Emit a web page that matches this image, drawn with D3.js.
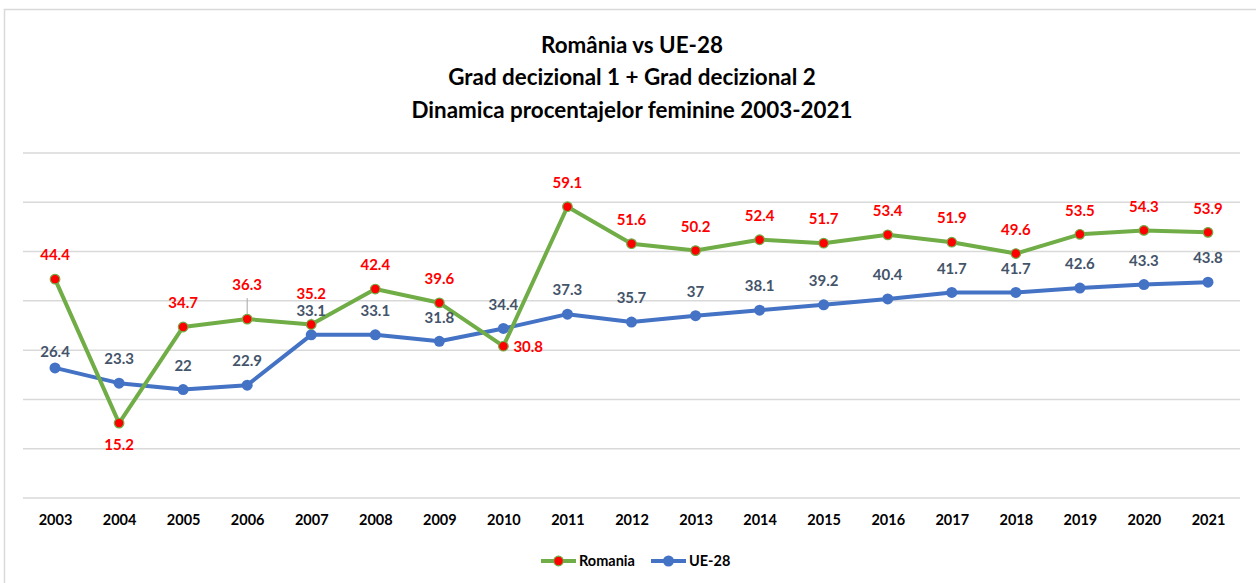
<!DOCTYPE html>
<html>
<head>
<meta charset="utf-8">
<script src="https://cdn.jsdelivr.net/npm/d3@7"></script>
<style>
  html, body { margin: 0; padding: 0; background: #fff; }
  svg { display: block; }
  text { font-family: Lato, "Open Sans", sans-serif; font-weight: bold; }
</style>
</head>
<body>
<svg id="chart" width="1256" height="583"></svg>
<script>
const titleLines = ["România vs UE-28", "Grad decizional 1 + Grad decizional 2", "Dinamica procentajelor feminine 2003-2021"];
const years = ["2003","2004","2005","2006","2007","2008","2009","2010","2011","2012","2013","2014","2015","2016","2017","2018","2019","2020","2021"];
const romania = [44.4, 15.2, 34.7, 36.3, 35.2, 42.4, 39.6, 30.8, 59.1, 51.6, 50.2, 52.4, 51.7, 53.4, 51.9, 49.6, 53.5, 54.3, 53.9];
const ue28 = [26.4, 23.3, 22, 22.9, 33.1, 33.1, 31.8, 34.4, 37.3, 35.7, 37, 38.1, 39.2, 40.4, 41.7, 41.7, 42.6, 43.3, 43.8];
const yTicks = [0, 10, 20, 30, 40, 50, 60, 70];
const seriesNames = ["Romania", "UE-28"];

(function () {
const svg = d3.select("#chart");
const W = 1256, H = 583;
const pLeft = 23, pRight = 1240, pTop = 153, pBottom = 498;

// outer chart border
svg.append("rect").attr("x", 4.5).attr("y", 9.5).attr("width", W + 10).attr("height", H + 10)
  .attr("fill", "#fff").attr("stroke", "#d9d9d9").attr("stroke-width", 1.5);

const x = d3.scalePoint().domain(years).range([pLeft, pRight]).padding(0.5);
const y = d3.scaleLinear().domain([0, 70]).range([pBottom, pTop]);

// gridlines
svg.append("g").selectAll("line").data(yTicks).join("line")
  .attr("x1", pLeft).attr("x2", pRight)
  .attr("y1", d => y(d)).attr("y2", d => y(d))
  .attr("stroke", "#d9d9d9").attr("stroke-width", 1.5);

// x axis labels
const xAxis = d3.axisBottom(x).tickSize(0).tickPadding(0);
const gx = svg.append("g").attr("transform", `translate(0,${pBottom + 17})`).call(xAxis);
gx.select(".domain").remove();
gx.selectAll("text").attr("font-size", 14.5).attr("fill", "#000")
  .attr("font-family", "Lato, sans-serif").attr("font-weight", "bold");

// title
svg.append("g").selectAll("text").data(titleLines).join("text")
  .attr("x", 632).attr("y", (d, i) => 52.5 + i * 32.5)
  .attr("text-anchor", "middle").attr("font-size", 22.4).attr("fill", "#000")
  .text(d => d);

const line = d3.line().x((d, i) => x(years[i])).y(d => y(d));

svg.append("path").datum(ue28).attr("d", line)
  .attr("fill", "none").attr("stroke", "#4472c4").attr("stroke-width", 4).attr("stroke-linejoin", "round");
svg.append("path").datum(romania).attr("d", line)
  .attr("fill", "none").attr("stroke", "#70ad47").attr("stroke-width", 4).attr("stroke-linejoin", "round");

svg.append("g").selectAll("circle").data(ue28).join("circle")
  .attr("cx", (d, i) => x(years[i])).attr("cy", d => y(d)).attr("r", 5.5)
  .attr("fill", "#4472c4");

// leader lines for Romania 2006, 2007
const leaderIdx = [3, 4];
svg.append("g").selectAll("line").data(leaderIdx).join("line")
  .attr("x1", i => x(years[i])).attr("x2", i => x(years[i]))
  .attr("y1", i => y(romania[i]) - (i === 3 ? 21 : 6)).attr("y2", i => y(romania[i]) - 3)
  .attr("stroke", "#a6a6a6").attr("stroke-width", 1);

svg.append("g").selectAll("circle").data(romania).join("circle")
  .attr("cx", (d, i) => x(years[i])).attr("cy", d => y(d)).attr("r", 4.8)
  .attr("fill", "#ff0000").attr("stroke", "#70ad47").attr("stroke-width", 1.2);

// UE labels
svg.append("g").selectAll("text").data(ue28).join("text")
  .attr("x", (d, i) => x(years[i]))
  .attr("y", (d, i) => y(d) - (i === 0 ? 16 : 24))
  .attr("dy", "0.35em")
  .attr("text-anchor", "middle").attr("font-size", 15).attr("fill", "#44546a")
  .text(d => d);

// Romania labels
function roOffset(i) {
  if (i === 1) return { dx: 0, dy: 22, anchor: "middle" };
  if (i === 7) return { dx: 10, dy: 1, anchor: "start" };
  if (i === 3) return { dx: 0, dy: -34, anchor: "middle" };
  if (i === 4) return { dx: 0, dy: -31, anchor: "middle" };
  return { dx: 0, dy: -24, anchor: "middle" };
}
svg.append("g").selectAll("text").data(romania).join("text")
  .attr("x", (d, i) => x(years[i]) + roOffset(i).dx)
  .attr("y", (d, i) => y(d) + roOffset(i).dy)
  .attr("dy", "0.35em")
  .attr("text-anchor", (d, i) => roOffset(i).anchor)
  .attr("font-size", 15).attr("fill", "#ff0000")
  .text(d => d);

// legend
const legend = svg.append("g");
const legendItems = [
  { name: seriesNames[0], x0: 541, stroke: "#70ad47", fill: "#ff0000", r: 4.8 },
  { name: seriesNames[1], x0: 651, stroke: "#4472c4", fill: "#4472c4", r: 5.5 }
];
const ly = 561;
legendItems.forEach(it => {
  legend.append("line").attr("x1", it.x0).attr("x2", it.x0 + 35).attr("y1", ly).attr("y2", ly)
    .attr("stroke", it.stroke).attr("stroke-width", 4);
  legend.append("circle").attr("cx", it.x0 + 17.5).attr("cy", ly).attr("r", it.r)
    .attr("fill", it.fill).attr("stroke", it.stroke).attr("stroke-width", it.fill === it.stroke ? 0 : 1.2);
  legend.append("text").attr("x", it.x0 + 38).attr("y", ly).attr("dy", "0.35em")
    .attr("font-size", 14.5).attr("fill", "#000").text(it.name);
});
})();
</script>
</body>
</html>
